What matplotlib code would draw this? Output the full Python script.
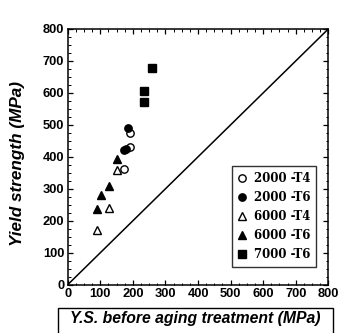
import matplotlib
matplotlib.use('Agg')
import matplotlib.pyplot as plt
from matplotlib.patches import Rectangle
from matplotlib.ticker import MultipleLocator

# Y.S. before aging (x) vs yield strength after aging (y), MPa
al2000_t4_x = [190, 192, 173]
al2000_t4_y = [474, 430, 361]
al2000_t6_x = [186, 172, 180]
al2000_t6_y = [490, 420, 425]
al6000_t4_x = [90, 128, 152]
al6000_t4_y = [170, 240, 359]
al6000_t6_x = [90, 101, 128, 150]
al6000_t6_y = [237, 281, 309, 394]
al7000_t6_x = [233, 233, 258]
al7000_t6_y = [571, 607, 679]

ticks = [0, 100, 200, 300, 400, 500, 600, 700, 800]

fig = plt.figure(figsize=(3.42, 3.33), dpi=100)
ax = fig.add_axes([0.198, 0.145, 0.762, 0.768])

ax.plot([0, 800], [0, 800], color='black', lw=1.1)

ms = 5.3
ax.plot(al2000_t4_x, al2000_t4_y, 'o', mfc='white', mec='black', mew=1.0, ms=ms, ls='none', label='2000 -T4')
ax.plot(al2000_t6_x, al2000_t6_y, 'o', color='black', ms=ms, ls='none', label='2000 -T6')
ax.plot(al6000_t4_x, al6000_t4_y, '^', mfc='white', mec='black', mew=1.0, ms=ms, ls='none', label='6000 -T4')
ax.plot(al6000_t6_x, al6000_t6_y, '^', color='black', ms=ms, ls='none', label='6000 -T6')
ax.plot(al7000_t6_x, al7000_t6_y, 's', color='black', ms=ms, ls='none', label='7000 -T6')

ax.set_xlim(0, 800)
ax.set_ylim(0, 800)
ax.set_xticks(ticks)
ax.set_yticks(ticks)
ax.xaxis.set_minor_locator(MultipleLocator(25))
ax.yaxis.set_minor_locator(MultipleLocator(25))
ax.tick_params(which='both', direction='in', top=True, right=True)
ax.tick_params(which='major', length=3.5, width=0.9, pad=2.5)
ax.tick_params(which='minor', length=1.8, width=0.7)
for s in ax.spines.values():
    s.set_linewidth(1.1)
for lab in ax.get_xticklabels() + ax.get_yticklabels():
    lab.set_fontfamily('Liberation Sans')
    lab.set_fontweight('bold')
    lab.set_fontsize(9.3)

leg = ax.legend(loc='lower right', bbox_to_anchor=(0.953, 0.07), frameon=True, fancybox=False,
                edgecolor='black', handlelength=0.7, handletextpad=0.6, labelspacing=0.5,
                borderpad=0.5, borderaxespad=0,
                prop={'family': 'DejaVu Serif', 'weight': 'bold', 'size': 8.5})
leg.get_frame().set_linewidth(1.0)

fig.text(0.05, 0.51, 'Yield strength (MPa)', rotation=90, ha='center', va='center',
         fontfamily='Liberation Sans', fontweight='bold', fontstyle='italic', fontsize=12.3)

# boxed x label
fig.patches.append(Rectangle((0.170, -0.05), 0.804, 0.125, transform=fig.transFigure,
                             fill=False, edgecolor='black', lw=1.0))
fig.text(0.572, 0.045, 'Y.S. before aging treatment (MPa)', ha='center', va='center',
         fontfamily='Liberation Sans', fontweight='bold', fontstyle='italic', fontsize=11.3)

fig.savefig('out.png', dpi=100)
